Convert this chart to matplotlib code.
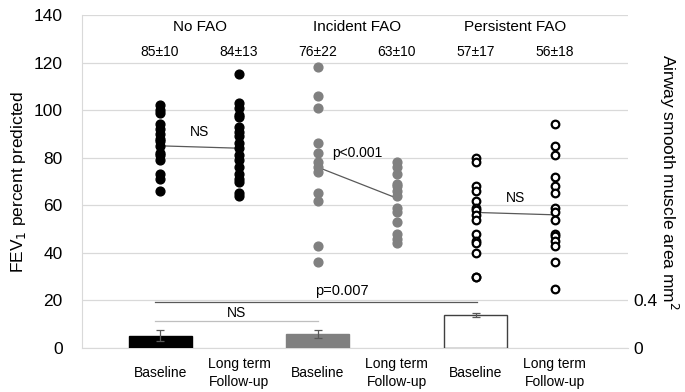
import matplotlib.pyplot as plt
import numpy as np

plt.rcParams['font.family'] = ['Liberation Sans Narrow', 'Liberation Sans', 'DejaVu Sans']

# FEV1 percent predicted, individual patients
no_fao_base = [102, 100, 99, 94, 92, 90, 88, 87, 85, 82, 81, 79, 73, 71, 66]
no_fao_follow = [115, 103, 101, 98, 97, 93, 91, 89, 86, 84, 81, 79, 76, 73, 71, 70, 65, 64]
inc_fao_base = [118, 106, 101, 86, 82, 78, 76, 74, 65, 62, 43, 36]
inc_fao_follow = [78, 76, 73, 69, 68, 66, 64, 59, 57, 53, 48, 46, 44]
per_fao_base = [80, 78, 68, 66, 62, 59, 58, 56, 54, 48, 45, 44, 40, 30, 30]
per_fao_follow = [94, 85, 81, 72, 68, 65, 59, 57, 54, 48, 47, 45, 43, 36, 25]

groups = ['No FAO', 'Incident FAO', 'Persistent FAO']
mean_labels = ['85±10', '84±13', '76±22', '63±10', '57±17', '56±18']
means = [85, 84, 76, 63, 57, 56]
pair_labels = ['NS', 'p<0.001', 'NS']
tick_labels = ['Baseline', 'Long term\nFollow-up'] * 3

# airway smooth muscle area (mm2) at baseline
asm_area = [0.103, 0.118, 0.277]
asm_err = [0.048, 0.034, 0.017]

fig = plt.figure(figsize=(6.85, 3.92), dpi=100)
ax = fig.add_axes([0.1197, 0.1122, 0.797, 0.8495])
ax2 = ax.twinx()

xpos = np.arange(6)
ax.set_xlim(-0.99, 5.93)
ax.set_ylim(0, 140)
ax.set_yticks(range(0, 141, 20))
ax.grid(axis='y', color='#d9d9d9', lw=0.9)
ax.set_axisbelow(True)
for s in ['top', 'right']:
    ax.spines[s].set_visible(False)
ax.spines['left'].set_color('#d9d9d9')
ax.spines['bottom'].set_color('#d9d9d9')
ax.tick_params(axis='y', length=0, labelsize=12.5, pad=14)
ax.set_xticks(xpos)
ax.set_xticklabels(tick_labels, fontsize=10, va='center', linespacing=1.3)
ax.tick_params(axis='x', length=0, pad=18)
ax.set_ylabel('FEV$_1$ percent predicted', fontsize=12.5, labelpad=4)

series = [no_fao_base, no_fao_follow, inc_fao_base, inc_fao_follow, per_fao_base, per_fao_follow]
styles = [dict(c='black'), dict(c='black'), dict(c='#808080'), dict(c='#808080'),
          dict(facecolors='white', edgecolors='black', linewidths=1.6),
          dict(facecolors='white', edgecolors='black', linewidths=1.6)]
for i, (vals, st) in enumerate(zip(series, styles)):
    s = 40 if i < 4 else 30
    ax.scatter([xpos[i]] * len(vals), vals, s=s, zorder=3, **st)

# mean lines with significance labels
for g in range(3):
    b, f = 2 * g, 2 * g + 1
    ax.plot([xpos[b], xpos[f]], [means[b], means[f]], color='#595959', lw=0.9, zorder=2)
    ax.text(xpos[b] + 0.5, max(means[b], means[f]) + 3, pair_labels[g], fontsize=10,
            ha='center', va='bottom', zorder=4)
    ax.text(xpos[b] + 0.5, 135, groups[g], fontsize=11, ha='center', va='center')
for i in range(6):
    ax.text(xpos[i], 124.5, mean_labels[i], fontsize=10, ha='center', va='center')

# right axis: smooth muscle area bars
ax2.set_ylim(0, 2.8)
ax2.set_yticks([0, 0.4])
ax2.set_yticklabels(['0', '0.4'])
ax2.tick_params(axis='y', length=0, labelsize=12.5, pad=4)
for s in ax2.spines.values():
    s.set_visible(False)
bx = xpos[::2]
ax2.bar(bx, asm_area, width=0.8, color=['black', '#808080', 'white'],
        edgecolor=['black', '#808080', '#404040'], lw=1, zorder=2)
ax2.errorbar(bx, asm_area, yerr=asm_err, fmt='none', ecolor='#595959', elinewidth=0.9,
             capsize=3, capthick=0.9, zorder=3)
ax2.plot([bx[0] - 0.06, bx[2] + 0.02], [0.39, 0.39], color='#595959', lw=0.9)
ax2.text(2.3, 0.48, 'p=0.007', fontsize=10.5, ha='center', va='center')
ax2.plot([bx[0] - 0.06, bx[1]], [0.226, 0.226], color='#bfbfbf', lw=0.9)
ax2.text(0.97, 0.295, 'NS', fontsize=10, ha='center', va='center')
ax2.set_ylabel('Airway smooth muscle area mm$^2$', fontsize=12.5, rotation=270,
               labelpad=16)

fig.savefig('out.png', dpi=100)
